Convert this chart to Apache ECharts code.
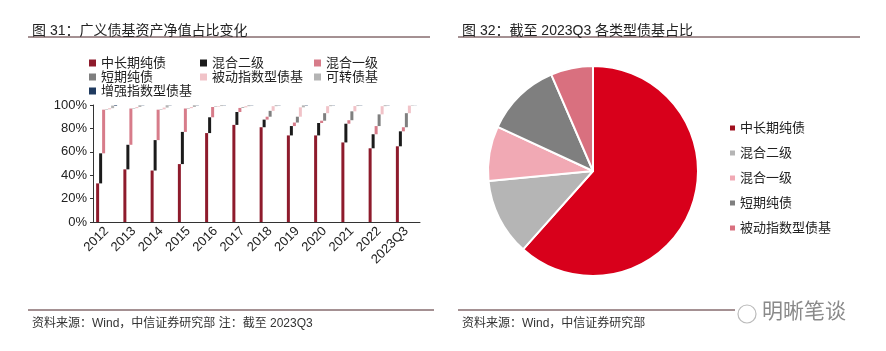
<!DOCTYPE html>
<html>
<head>
<meta charset="utf-8">
<script src="https://cdn.jsdelivr.net/npm/echarts@6/dist/echarts.min.js"></script>
<style>
  html, body { margin: 0; padding: 0; background: #fff; }
  #chart { width: 886px; height: 351px; }
</style>
</head>
<body>
<div id="chart"></div>
<script>
// 图31 广义债基资产净值占比（%）
const years = ['2012', '2013', '2014', '2015', '2016', '2017', '2018', '2019', '2020', '2021', '2022', '2023Q3']
const midLong   = [33, 45, 44, 49.5, 76, 83, 81, 74, 74, 68, 63, 64.7]
const mixed2    = [25.7, 21, 26, 27.5, 13.5, 11, 6.5, 8, 10.6, 16, 12, 12.8]
const mixed1    = [37.3, 31, 26, 20, 8.8, 3.5, 2.5, 3, 2, 3, 7, 3.5]
const shortPure = [0.3, 0.3, 0.3, 0.3, 0.3, 0.5, 5, 5, 6.4, 7.6, 10, 12]
const passive   = [1, 1, 1.5, 1, 0.5, 1, 4, 8, 6, 4.5, 7, 6.5]
const convert   = [2.2, 1.5, 2, 1.5, 0.7, 0.8, 0.8, 1.7, 0.8, 0.7, 0.8, 0.4]
const enhanced  = [0.5, 0.2, 0.2, 0.2, 0.2, 0.2, 0.2, 0.3, 0.2, 0.2, 0.2, 0.1]

const barNames  = ['中长期纯债', '混合二级', '混合一级', '短期纯债', '被动指数型债基', '可转债基', '增强指数型债基']
const barColors = ['#8e1b2c', '#1b1b1b', '#d77c8a', '#7f7f7f', '#f1c3c8', '#b4b4b4', '#1f3a5f']
const barValues = [midLong, mixed2, mixed1, shortPure, passive, convert, enhanced]

// 图32 截至2023Q3 各类型债基占比（%）
const pieNames  = ['中长期纯债', '混合二级', '混合一级', '短期纯债', '被动指数型债基']
const pieValues = [61.6, 11.9, 8.4, 11.6, 6.5]
const pieColors = ['#d8001b', '#b5b5b5', '#f1a9b4', '#7f7f7f', '#d9707f']

const FONT = '"Liberation Sans", "Noto Sans CJK SC", sans-serif'

const chart = echarts.init(document.getElementById('chart'))

// each series floats on a transparent base so the bars step up side by side
const series = []
const running = years.map(() => 0)
barValues.forEach((vals, i) => {
  series.push({
    name: 'base' + i,
    type: 'bar',
    stack: 'g' + i,
    barWidth: 3,
    barGap: '0%',
    silent: true,
    itemStyle: { color: 'transparent' },
    data: running.slice()
  })
  series.push({
    name: barNames[i],
    type: 'bar',
    stack: 'g' + i,
    barWidth: 3,
    barGap: '0%',
    itemStyle: { color: barColors[i] },
    data: vals
  })
  vals.forEach((v, k) => { running[k] += v })
})

series.push({
  type: 'pie',
  center: [593, 171],
  radius: 105,
  startAngle: 90,
  clockwise: true,
  label: { show: false },
  labelLine: { show: false },
  itemStyle: { borderColor: '#fff', borderWidth: 2 },
  data: pieNames.map((n, i) => ({ name: n, value: pieValues[i], itemStyle: { color: pieColors[i] } }))
})

const legendText = { fontSize: 13, color: '#222', fontFamily: FONT, lineHeight: 14 }
const leftLegend = (left, idx) => ({
  orient: 'vertical',
  left: left,
  top: 51,
  itemWidth: 7,
  itemHeight: 7,
  itemGap: 0,
  icon: 'rect',
  selectedMode: false,
  textStyle: legendText,
  data: idx.map(i => ({ name: barNames[i], itemStyle: { color: barColors[i] } }))
})

const titleStyle = { fontSize: 14, fontWeight: 'normal', color: '#222', fontFamily: FONT }
const noteStyle = { fontSize: 12, fontWeight: 'normal', color: '#333', fontFamily: FONT }

chart.setOption({
  animation: false,
  title: [
    { text: '图 31：广义债基资产净值占比变化', left: 27, top: 19, textStyle: titleStyle },
    { text: '图 32：截至 2023Q3 各类型债基占比', left: 457, top: 19, textStyle: titleStyle },
    { text: '资料来源：Wind，中信证券研究部 注：截至 2023Q3', left: 27, top: 313, textStyle: noteStyle },
    { text: '资料来源：Wind，中信证券研究部', left: 457, top: 313, textStyle: noteStyle }
  ],
  legend: [
    leftLegend(84, [0, 3, 6]),
    leftLegend(195, [1, 4]),
    leftLegend(309, [2, 5]),
    {
      orient: 'vertical',
      left: 725,
      top: 116,
      itemWidth: 5,
      itemHeight: 5,
      itemGap: 11,
      icon: 'rect',
      selectedMode: false,
      textStyle: legendText,
      data: pieNames.map((n, i) => ({ name: n, itemStyle: { color: i === 0 ? '#a0101e' : pieColors[i] } }))
    }
  ],
  grid: { left: 93, right: 466, top: 105, bottom: 129 },
  xAxis: {
    type: 'category',
    data: years,
    axisLine: { lineStyle: { color: '#333' } },
    axisTick: { length: 5, lineStyle: { color: '#333' } },
    axisLabel: { rotate: 45, fontSize: 13, color: '#222', fontFamily: FONT, margin: 7 }
  },
  yAxis: {
    type: 'value',
    min: 0,
    max: 100,
    interval: 20,
    axisLine: { show: true, lineStyle: { color: '#333' } },
    axisTick: { show: true, length: 3, lineStyle: { color: '#333' } },
    splitLine: { show: false },
    axisLabel: { formatter: '{value}%', fontSize: 13, color: '#222', fontFamily: FONT, margin: 6 }
  },
  graphic: [
    { type: 'line', shape: { x1: 28, y1: 37, x2: 430, y2: 37 }, style: { stroke: '#4a2226', lineWidth: 1 } },
    { type: 'line', shape: { x1: 458, y1: 37, x2: 860, y2: 37 }, style: { stroke: '#4a2226', lineWidth: 1 } },
    { type: 'line', shape: { x1: 28, y1: 310, x2: 434, y2: 310 }, style: { stroke: '#4a2226', lineWidth: 1 } },
    { type: 'line', shape: { x1: 458, y1: 310, x2: 735, y2: 310 }, style: { stroke: '#4a2226', lineWidth: 1 } },
    { type: 'circle', shape: { cx: 747, cy: 314, r: 9 }, style: { fill: 'none', stroke: '#bbb', lineWidth: 1.2 } },
    { type: 'text', left: 762, top: 302, style: { text: '明晰笔谈', fontSize: 21, fill: '#8a8a8a', fontFamily: FONT } }
  ],
  series: series
})
</script>
</body>
</html>
